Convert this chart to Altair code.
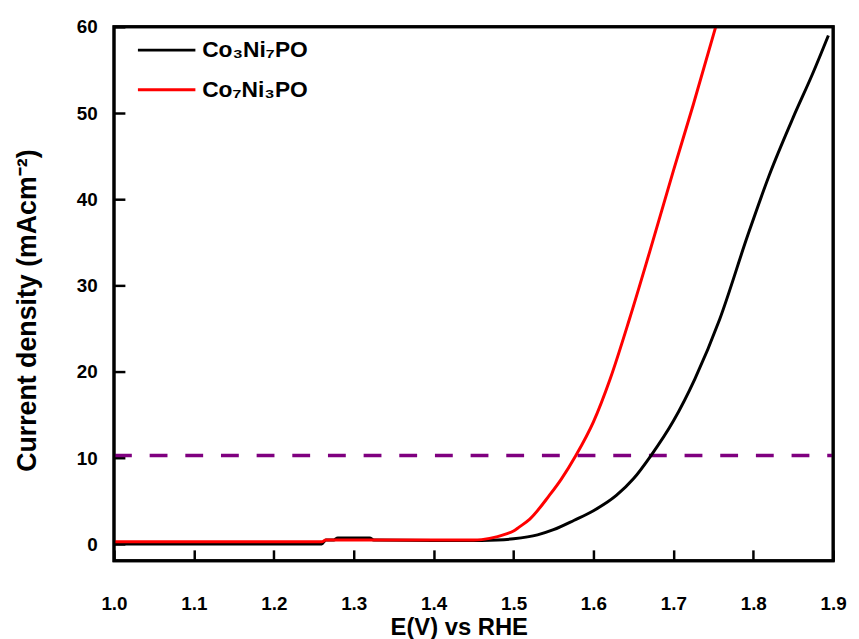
import altair as alt
import pandas as pd

# Co3Ni7PO (black)
e_black = [1.00, 1.10, 1.20, 1.26, 1.265, 1.275, 1.28, 1.32, 1.325, 1.40, 1.43, 1.46, 1.48, 1.50,
           1.53, 1.55, 1.576, 1.60, 1.629, 1.65, 1.672, 1.70, 1.727, 1.758, 1.793, 1.82, 1.85, 1.874, 1.894]
j_black = [0.05, 0.05, 0.05, 0.05, 0.5, 0.5, 0.75, 0.75, 0.5, 0.45, 0.45, 0.45, 0.5, 0.65,
           1.1, 1.7, 2.8, 3.9, 5.7, 7.6, 10.3, 14.3, 19.2, 26.1, 35.8, 42.8, 49.5, 54.5, 59.0]

# Co7Ni3PO (red)
e_red = [1.00, 1.10, 1.20, 1.26, 1.265, 1.35, 1.45, 1.46, 1.47, 1.48, 1.49, 1.50, 1.507, 1.52,
         1.545, 1.56, 1.578, 1.60, 1.621, 1.645, 1.67, 1.70, 1.725, 1.753]
j_red = [0.3, 0.3, 0.3, 0.3, 0.5, 0.5, 0.5, 0.55, 0.7, 0.9, 1.2, 1.55, 2.0, 2.9,
         5.7, 7.6, 10.3, 14.2, 19.2, 26.1, 33.8, 43.3, 51.0, 60.0]

names = ["Co\u2083Ni\u2087PO", "Co\u2087Ni\u2083PO"]
colors = ["#000000", "#ff0000"]

ref_e = [1.0, 1.9]
ref_j = [10.3, 10.3]

x_ticks = [1.0, 1.1, 1.2, 1.3, 1.4, 1.5, 1.6, 1.7, 1.8, 1.9]
y_ticks = [0, 10, 20, 30, 40, 50, 60]

df = pd.concat([
    pd.DataFrame({"E": e_black, "J": j_black, "sample": names[0]}),
    pd.DataFrame({"E": e_red, "J": j_red, "sample": names[1]}),
])
ref = pd.DataFrame({"E": ref_e, "J": ref_j})

W, H = 726, 539
FONT = "Liberation Sans"
LBL = dict(labelFont=FONT, labelFontSize=19, labelFontWeight="bold", labelColor="black",
           labelFlush=False, labelOverlap=False)
TTL = dict(titleFont=FONT, titleFontWeight="bold", titleColor="black")

xscale = alt.Scale(domain=[1.0, 1.9], nice=False, zero=False)
yscale = alt.Scale(domain=[-1.9, 60], nice=False, zero=False)

# plot frame
frame = alt.Chart(ref.head(1)).mark_rect(filled=False, stroke="black", strokeWidth=3).encode(
    x=alt.value(0), x2=alt.value(W), y=alt.value(0), y2=alt.value(H)
)

# inward ticks + reference line
dash = alt.Chart(ref).mark_line(color="#7f007f", strokeWidth=3.5, strokeDash=[18, 18]).encode(
    x=alt.X("E:Q", scale=xscale,
            axis=alt.Axis(orient="top", offset=-H, values=x_ticks, labels=False, ticks=True,
                          tickSize=11, tickWidth=2.5, tickColor="black", domain=False,
                          grid=False, title=None)),
    y=alt.Y("J:Q", scale=yscale,
            axis=alt.Axis(orient="right", offset=-W, values=y_ticks, labels=False, ticks=True,
                          tickSize=11, tickWidth=2.5, tickColor="black", domain=False,
                          grid=False, title=None)),
)

lines = alt.Chart(df).mark_line(strokeWidth=3, interpolate="monotone").encode(
    x=alt.X("E:Q", scale=xscale,
            axis=alt.Axis(orient="bottom", values=x_ticks, format=".1f", ticks=False, domain=False,
                          grid=False, labelPadding=34, title="E(V) vs RHE",
                          titleFontSize=24, titleBaseline="alphabetic", titleY=74, titleX=348,
                          **LBL, **TTL)),
    y=alt.Y("J:Q", scale=yscale,
            axis=alt.Axis(orient="left", values=y_ticks, ticks=False, domain=False, grid=False,
                          labelPadding=17, title="Current density (mAcm\u207b\u00b2)", titlePadding=35,
                          titleFontSize=27, titleY=286, **LBL, **TTL)),
    color=alt.Color("sample:N", scale=alt.Scale(domain=names, range=colors),
                    legend=alt.Legend(orient="none", legendX=61, legendY=12, title=None,
                                      symbolType="M-5,0H1", symbolSize=374, symbolStrokeWidth=3,
                                      labelOffset=5, rowPadding=16, padding=0,
                                      labelFont=FONT, labelFontSize=23, labelFontWeight="bold",
                                      labelColor="black")),
    order=alt.Order("E:Q"),
)

chart = alt.layer(dash, lines, frame).properties(
    width=W, height=H,
    background="white",
    autosize=alt.AutoSizeParams(type="none"),
    padding={"left": 107, "top": 16, "right": 18, "bottom": 80},
).configure_view(
    stroke="black", strokeWidth=3
)

chart.save("out.html", embed_options={"renderer": "svg", "actions": False})
